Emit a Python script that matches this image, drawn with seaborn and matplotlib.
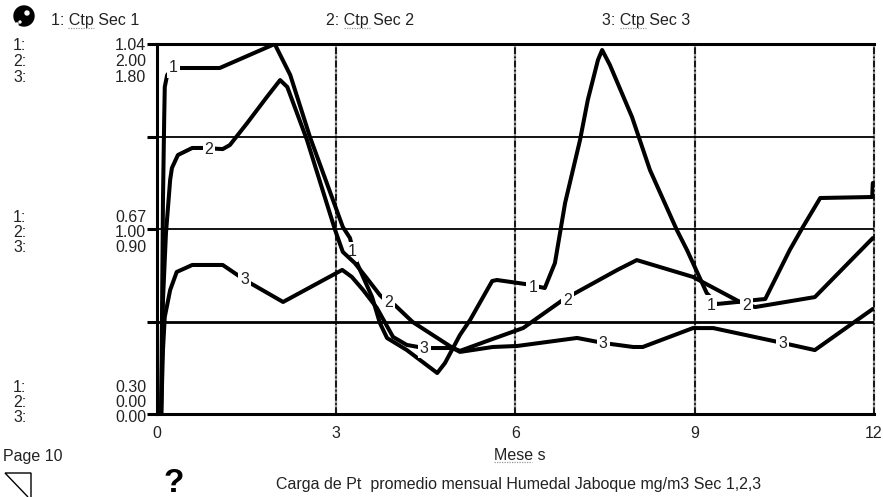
import pandas as pd
import seaborn as sns
import matplotlib.pyplot as plt
from matplotlib.patches import Ellipse, Polygon

# values
meses_1 = [0, 0.07, 0.10, 0.12, 0.13, 0.17, 0.27, 1.05, 1.97, 2.23, 2.56, 3.11, 3.23, 3.31, 3.45, 3.60, 3.73, 3.85,
           4.18, 4.69, 4.82, 5.07, 5.24, 5.61, 5.69, 6.16, 6.49, 6.66, 6.83, 7.08, 7.21, 7.38, 7.45, 7.58, 7.95,
           8.25, 8.70, 8.87, 9.20, 9.37, 9.71, 10.01, 10.18, 10.59, 10.81, 11.10, 11.97, 11.98]
sec_1 = [0.30, 0.30, 0.728, 0.888, 0.954, 0.978, 0.992, 0.992, 1.04, 0.978, 0.854, 0.674, 0.652, 0.612, 0.574,
         0.534, 0.482, 0.452, 0.428, 0.382, 0.402, 0.458, 0.488, 0.566, 0.568, 0.56, 0.552, 0.602, 0.722, 0.848,
         0.928, 1.008, 1.028, 0.998, 0.894, 0.788, 0.668, 0.628, 0.542, 0.52, 0.524, 0.528, 0.53, 0.628, 0.674,
         0.732, 0.734, 0.762]

meses_2 = [0, 0.07, 0.10, 0.15, 0.22, 0.25, 0.35, 0.59, 0.77, 1.10, 1.22, 1.51, 1.84, 2.06, 2.18, 2.51, 2.98, 3.11,
           3.31, 3.51, 3.73, 3.87, 3.98, 4.28, 4.95, 5.07, 5.57, 6.13, 6.79, 7.70, 8.03, 8.97, 9.76, 10.01, 11.01,
           11.98]
sec_2 = [0, 0, 0.616, 0.978, 1.265, 1.33, 1.40, 1.438, 1.438, 1.432, 1.454, 1.573, 1.714, 1.805, 1.768, 1.481,
         0.995, 0.876, 0.816, 0.735, 0.643, 0.6, 0.589, 0.497, 0.357, 0.341, 0.4, 0.465, 0.616, 0.778, 0.832,
         0.741, 0.605, 0.578, 0.632, 0.951]

meses_3 = [0, 0.07, 0.10, 0.13, 0.22, 0.33, 0.59, 1.10, 1.47, 2.11, 3.10, 3.26, 3.45, 3.68, 3.82, 3.95, 4.18, 4.47,
           4.95, 5.07, 5.62, 6.03, 7.03, 7.48, 7.97, 8.13, 8.97, 9.31, 10.48, 11.01, 11.98]
sec_3 = [0, 0, 0.311, 0.472, 0.603, 0.691, 0.725, 0.725, 0.652, 0.545, 0.701, 0.667, 0.603, 0.516, 0.443, 0.375,
         0.336, 0.321, 0.321, 0.302, 0.326, 0.331, 0.370, 0.345, 0.326, 0.326, 0.418, 0.418, 0.345, 0.311, 0.511]

# month, value of the numbers sitting on each curve
etiq_1 = [(0.27, 0.992), (3.26, 0.624), (6.29, 0.552), (9.27, 0.518)]
etiq_2 = [(0.87, 1.43), (3.87, 0.6), (6.87, 0.616), (9.87, 0.585)]
etiq_3 = [(1.47, 0.652), (4.47, 0.321), (7.47, 0.345), (10.47, 0.345)]

sns.set_style("white")
plt.rcParams["font.family"] = ["Liberation Sans", "DejaVu Sans"]

W, H = 883, 497
fig = plt.figure(figsize=(W / 100, H / 100), dpi=100)
ax = fig.add_axes([157 / W, (H - 414) / H, 717 / W, 370 / H])


# pixel position to figure fraction
def fx(px):
    return px / W


def fy(py):
    return 1 - py / H


def texto(px, py, s, **kw):
    kw.setdefault("fontsize", 11.5)
    kw.setdefault("color", "#222222")
    kw.setdefault("va", "center")
    fig.text(fx(px), fy(py), s, **kw)


def ondas(x0, x1, py):
    fig.add_artist(plt.Line2D([fx(x0), fx(x1)], [fy(py), fy(py)], color="#999999", lw=0.9, ls=(0, (1, 1))))


def bola(px, py, r, color):
    fig.add_artist(Ellipse((fx(px), fy(py)), 2 * r / W, 2 * r / H, color=color, transform=fig.transFigure))


ax.set_xlim(0, 12)
ax.set_ylim(0.30, 1.04)
ax.set_xticks([0, 3, 6, 9, 12])
ax.set_yticks([0.30, 0.485, 0.67, 0.855, 1.04])
ax.set_yticklabels([])
ax.set_xlabel("")
ax.set_ylabel("")
ax.tick_params(axis="x", length=6, width=2.2, color="black", pad=3, labelsize=11.5, labelcolor="#222222")
ax.tick_params(axis="y", left=True, length=7, width=2.2, color="black")

# grid
for m in [3, 6, 9, 12]:
    ax.axvline(m, color="#999999", lw=1.6, zorder=1, clip_on=False)
    ax.axvline(m, color="black", lw=1.2, ls=(0, (4, 1.5, 1, 1.5)), zorder=1, clip_on=False)
ax.axhline(0.67, color="black", lw=1.3, zorder=1)
ax.axhline(0.855, color="black", lw=1.3, zorder=1)
ax.axhline(0.485, color="black", lw=2, zorder=1)

for lado in ["left", "bottom", "top"]:
    ax.spines[lado].set_visible(True)
    ax.spines[lado].set_linewidth(2.2)
    ax.spines[lado].set_color("black")
ax.spines["right"].set_visible(False)

series = [
    ("1", meses_1, sec_1, etiq_1, (0.30, 1.04)),
    ("2", meses_2, sec_2, etiq_2, (0, 2.0)),
    ("3", meses_3, sec_3, etiq_3, (0, 1.8)),
]

for nombre, meses, valores, etiquetas, lims in series:
    # each curve has its own scale, like the three columns on the left
    eje = ax.twinx()
    eje.patch.set_visible(False)
    df = pd.DataFrame({"Meses": meses, "Ctp": valores})
    sns.lineplot(data=df, x="Meses", y="Ctp", ax=eje, color="black", lw=2.9, sort=False, estimator=None,
                 errorbar=None, solid_capstyle="round", solid_joinstyle="round")
    eje.set_ylim(*lims)
    eje.set_xlim(0, 12)
    eje.axis("off")
    for m, v in etiquetas:
        eje.text(m, v, nombre, fontsize=11.5, color="#222222", ha="center", va="center", zorder=5,
                 bbox=dict(facecolor="white", edgecolor="none", pad=1.5))

# header
bola(24, 16, 10, "black")
bola(27, 13, 2, "white")
bola(17, 24, 1, "white")
bola(20, 22, 1, "white")
texto(51, 20, "1: Ctp Sec 1")
ondas(68, 94, 28)
texto(326, 20, "2: Ctp Sec 2")
ondas(344, 370, 28)
texto(602, 20, "3: Ctp Sec 3")
ondas(620, 646, 28)

# scale columns on the left
columnas = [
    (46, ["1:", "2:", "3:"], ["1.04", "2.00", "1.80"]),
    (217, ["1:", "2:", "3:"], ["0.67", "1.00", "0.90"]),
    (387, ["1:", "2:", "3:"], ["0.30", "0.00", "0.00"]),
]
for py, nums, vals in columnas:
    for i in range(3):
        texto(13, py + i * 15.5, nums[i])
        texto(146, py + i * 15.5, vals[i], ha="right")

# footer
texto(3, 456, "Page 10")
texto(494, 456, "Mese s")
ondas(494, 532, 462)
texto(276, 484, "Carga de Pt  promedio mensual Humedal Jaboque mg/m3 Sec 1,2,3")
texto(163, 483, "?", fontsize=24, fontweight="bold", color="black")
fig.add_artist(Polygon([(fx(28), fy(497)), (fx(5), fy(473)), (fx(31), fy(473)), (fx(31), fy(497))], closed=False,
                       fill=False, edgecolor="black", lw=1, transform=fig.transFigure))

fig.savefig("out.png", dpi=100)
plt.close()
